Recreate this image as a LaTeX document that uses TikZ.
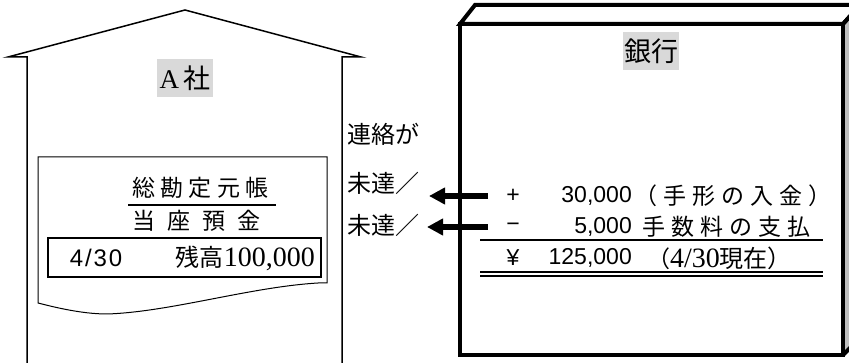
\documentclass[tikz,border=0pt]{standalone}
\usepackage{fontspec}
\setmainfont{Liberation Serif}
\newfontfamily\jp{Noto Sans CJK JP}
\newfontfamily\jpsp{Noto Sans CJK JP}[LetterSpace=23]
\newfontfamily\jpwide{Noto Sans CJK JP}[LetterSpace=26]
\newfontfamily\gothic{Liberation Sans}
\usetikzlibrary{arrows.meta}
\begin{document}
\begin{tikzpicture}[x=1pt,y=-1pt,
  houseline/.style={line width=1.5pt},
  frame/.style={line width=4pt},
  tagbox/.style={fill=black!15, inner sep=0pt, minimum width=56pt, minimum height=38pt},
  txt/.style={inner sep=0pt, font=\jp\fontsize{24}{24}\selectfont},
  sptxt/.style={inner sep=0pt, font=\jpsp\fontsize{23}{23}\selectfont},
  numtxt/.style={inner sep=0pt, font=\gothic\fontsize{23}{23}\selectfont},
  sendarrow/.style={line width=5.5pt, -{Triangle[length=16pt,width=16pt]}},
  rule/.style={line width=1.5pt},
]
\useasboundingbox (0,0) rectangle (849,363);
\clip (0,0) rectangle (849,363);

% ---- house (A社)
\draw[houseline] (27,370) -- (27,57) -- (8,57) -- (185,10) -- (361,57) -- (342,57) -- (342,370);
\node[tagbox, font=\fontsize{27}{30}\selectfont] (asha) at (185,78) {A\,{\jp 社}};

% ledger sheet
\draw[line width=1pt] (38,157) -- (327,157) -- (327,283) -- (318,283)
  .. controls (250,287) and (170,312) .. (107,314)
  .. controls (80,314) and (50,306) .. (38,303) -- cycle;
\node[sptxt, anchor=west] (ledger) at (132,188) {総勘定元帳};
\draw[line width=2pt] (128,205) -- (276,205);
\node[sptxt, anchor=west] (acct) at (132,221) {当\hspace{12pt}座\hspace{12pt}預\hspace{12pt}金};
\draw[line width=2pt] (48,238) rectangle (321,277);
\node[numtxt, font=\gothic\addfontfeature{LetterSpace=8}\fontsize{24}{24}\selectfont] (date) at (96,258) {4/30};
\node[inner sep=0pt, anchor=east] (bal) at (315,258)
  {{\jp\fontsize{24}{24}\selectfont 残高}{\fontsize{28}{28}\selectfont 100,000}};

% ---- labels between
\node[txt, anchor=west] (renraku) at (347,134) {連絡が};
\node[txt, anchor=west] (mitatsu1) at (347,183) {未達／};
\node[txt, anchor=west] (mitatsu2) at (347,225) {未達／};

% ---- bank box
\fill[black!25] (843,24) -- (860,5) -- (860,338) -- (843,355) -- cycle;
\draw[frame, fill=white] (460,24) -- (475,5) -- (860,5) -- (843,24) -- cycle;
\draw[frame] (843,24) -- (860,5) -- (860,338) -- (843,355);
\draw[frame] (460,24) rectangle (843,355);
\node[tagbox, font=\jp\fontsize{27}{30}\selectfont] (ginko) at (651,51) {銀行};

% bank statement
\node[numtxt] (plus) at (513,196) {+};
\node[numtxt] (minus) at (513,227) {−};
\node[numtxt] (yen) at (513,258) {¥};
\node[numtxt, anchor=east] (v1) at (632,196) {30,000};
\node[numtxt, anchor=east] (v2) at (632,227) {5,000};
\node[numtxt, anchor=east] (v3) at (632,258) {125,000};
\node[inner sep=0pt, anchor=west, font=\jpwide\fontsize{23}{23}\selectfont] (d1) at (634,196)
  {（手形の入金）};
\node[inner sep=0pt, anchor=west, font=\jpwide\fontsize{23}{23}\selectfont] (d2) at (642,227) {手数料の支払};
\node[inner sep=0pt, anchor=west] (d3) at (659,258)
  {\hspace{-12pt}{\jp\fontsize{23}{23}\selectfont （}{\fontsize{28}{28}\selectfont 4/30}{\jp\fontsize{24}{24}\selectfont 現在）}};
\draw[rule] (480,240) -- (823,240);
\draw[rule] (480,272) -- (823,272);
\draw[rule] (480,276) -- (823,276);

% arrows from bank to company
\coordinate (t1) at (488,196);
\coordinate (h1) at (429,196);
\coordinate (t2) at (488,227);
\coordinate (h2) at (427,227);
\draw[sendarrow] (t1) -- (h1);
\draw[sendarrow] (t2) -- (h2);
\end{tikzpicture}
\end{document}
